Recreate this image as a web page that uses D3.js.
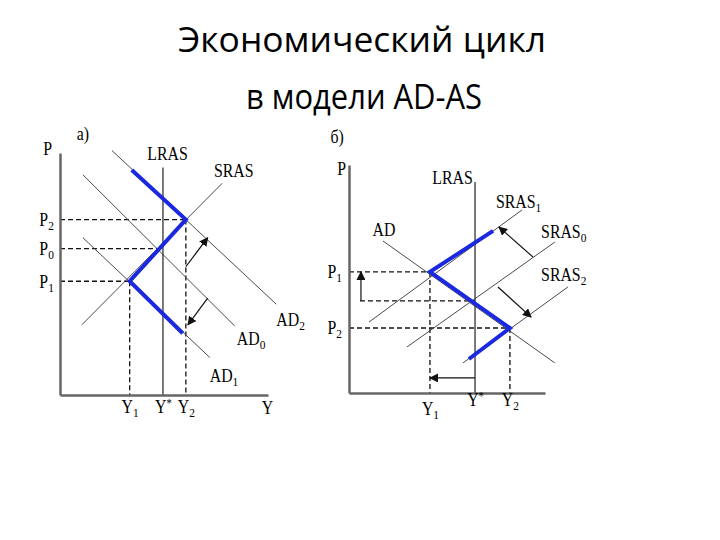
<!DOCTYPE html>
<html>
<head>
<meta charset="utf-8">
<script src="https://cdn.jsdelivr.net/npm/d3@7"></script>
<style>
  body { margin: 0; background: #fff; }
  .title { font-family: "Open Sans", "Noto Sans", sans-serif; font-size: 35px; fill: #000; }
  .lbl, .tick text { font-family: "Liberation Serif", "DejaVu Serif", serif; font-size: 18px; fill: #000; }
  .curve { fill: none; stroke: #4a4a4a; stroke-width: 1; }
  .lras { fill: none; stroke: #222; stroke-width: 1.2; }
  .dash { fill: none; stroke: #111; stroke-width: 1.3; stroke-dasharray: 5,3; }
  .path { fill: none; stroke: #1a28e0; stroke-width: 4; stroke-linejoin: miter; }
  .arr { fill: none; stroke: #111; stroke-width: 1.2; }
  .domain { stroke: #666; stroke-width: 2.5; }
</style>
</head>
<body>
<svg id="chart" width="720" height="540"></svg>
<script>
// ---- panel a) : demand shocks ----
var A_AD2 = [[25, 101], [104, 37.5]];
var A_AD0 = [[11, 91], [84, 28.5]];
var A_AD1 = [[11, 65], [72, 15.5]];
var A_SRAS = [[10.5, 29], [78, 87.5]];
var A_LRAS = [[49.5, 0], [49.5, 94]];
var A_path = [[34.5, 93], [60.5, 72.5], [33.5, 47], [59, 25.5]];
var A_yearTicks = [33.5, 49.5, 60.5];
var A_yearLabels = [["Y", "1"], ["Y", "*"], ["Y", "2"]];
var A_priceTicks = [72.5, 60.5, 47];
var A_priceLabels = [["P", "2"], ["P", "0"], ["P", "1"]];
var A_dashes = [
    [[0, 72.5], [60.5, 72.5]],
    [[0, 60.5], [49.5, 60.5]],
    [[0, 47], [33.5, 47]],
    [[33.5, 47], [33.5, 0]],
    [[60.5, 72.5], [60.5, 0]]
];
var A_arrows = [
    [[60.5, 53], [71, 65]],
    [[71, 40], [61.5, 29]]
];

// ---- panel б) : supply shocks ----
var B_AD = [[17.3, 66.7], [105, 13.2]];
var B_SRAS1 = [[10.2, 31.1], [88.3, 80.3]];
var B_SRAS0 = [[29.6, 20.2], [105, 66.2]];
var B_SRAS2 = [[58.2, 13.2], [111.7, 46.5]];
var B_LRAS = [[64.3, 0], [64.3, 92.5]];
var B_path = [[73.5, 71.1], [41.3, 53.1], [82.1, 28.5], [61.2, 14.9]];
var B_yearTicks = [41.3, 64.3, 82.1];
var B_yearLabels = [["Y", "1"], ["Y", "*"], ["Y", "2"]];
var B_priceTicks = [53.1, 28.5];
var B_priceLabels = [["P", "1"], ["P", "2"]];
var B_dashes = [
    [[0, 53.1], [41.3, 53.1]],
    [[5.6, 40.4], [64.3, 40.4]],
    [[0, 28.5], [82.1, 28.5]],
    [[41.3, 53.1], [41.3, 0]],
    [[82.1, 28.5], [82.1, 0]]
];
var B_arrows = [
    [[6.1, 40.4], [6.1, 53.1]],
    [[64.3, 6.6], [41.3, 6.6]],
    [[93.9, 59.6], [76.5, 72.8]],
    [[76, 46.5], [92.9, 33.3]]
];

var svg = d3.select("#chart");
var squeeze = 0.88;   // the scanned labels look a bit narrow

svg.append("defs").append("marker")
    .attr("id", "head")
    .attr("viewBox", "0 0 10 10")
    .attr("refX", 9).attr("refY", 5)
    .attr("markerWidth", 9).attr("markerHeight", 9)
    .attr("markerUnits", "userSpaceOnUse")
    .attr("orient", "auto")
    .append("path")
    .attr("d", "M0,0L10,5L0,10z")
    .attr("fill", "#111");

// title
svg.append("text").attr("class", "title")
    .attr("x", 362).attr("y", 52)
    .attr("text-anchor", "middle")
    .attr("textLength", 368).attr("lengthAdjust", "spacingAndGlyphs")
    .text("Экономический цикл");
svg.append("text").attr("class", "title")
    .attr("x", 364).attr("y", 109)
    .attr("text-anchor", "middle")
    .attr("textLength", 236).attr("lengthAdjust", "spacingAndGlyphs")
    .text("в модели AD-AS");

// write "X" with a small index after it
function subText(sel, pair) {
    sel.text(null);
    sel.append("tspan").text(pair[0]);
    if (pair[1] == "*")
	sel.append("tspan").attr("font-size", "12px").attr("dy", "-6").text(pair[1]);
    else if (pair[1])
	sel.append("tspan").attr("font-size", "13px").attr("dy", "4").text(pair[1]);
}

function label(g, x, y, px, py, pair) {
    var t = g.append("text").attr("class", "lbl")
	.attr("transform", "translate(" + x(px) + "," + y(py) + ") scale(" + squeeze + ",1)");
    subText(t, typeof pair == "string" ? [pair, ""] : pair);
    return t;
}

function drawPanel(p) {
    var g = svg.append("g");
    var x = d3.scaleLinear().domain([0, 100]).range(p.xr);
    var y = d3.scaleLinear().domain([0, 100]).range(p.yr);
    var line = d3.line().x(d => x(d[0])).y(d => y(d[1]));

    g.selectAll(".dash")
	.data(p.dashes)
	.enter().append("path")
	.attr("class", "dash")
	.attr("d", line);

    g.selectAll(".curve")
	.data(p.curves)
	.enter().append("path")
	.attr("class", "curve")
	.attr("d", line);

    g.append("path").attr("class", "lras").attr("d", line(p.lras));

    g.append("path").attr("class", "path").attr("d", line(p.path));

    g.selectAll(".arr")
	.data(p.arrows)
	.enter().append("path")
	.attr("class", "arr")
	.attr("marker-end", "url(#head)")
	.attr("d", line);

    var xAxis = g.append("g")
	.attr("transform", "translate(0," + p.yr[0] + ")")
	.call(d3.axisBottom(x).tickValues(p.xt).tickSize(0).tickSizeOuter(0)
	      .tickPadding(p.xpad).tickFormat((d, i) => i));
    xAxis.selectAll(".tick text").each(function(d, i) {
	var t = d3.select(this);
	subText(t, p.xl[i]);
	if (p.xshift) t.attr("y", p.xpad + p.xshift[i]);
	t.attr("transform", "scale(" + squeeze + ",1)");
    });

    var yAxis = g.append("g")
	.attr("transform", "translate(" + p.xr[0] + ",0)")
	.call(d3.axisLeft(y).tickValues(p.yt).tickSize(0).tickSizeOuter(0)
	      .tickPadding(p.ypad).tickFormat((d, i) => i));
    yAxis.selectAll(".tick text").each(function(d, i) {
	var t = d3.select(this);
	subText(t, p.yl[i]);
	t.attr("transform", "scale(" + squeeze + ",1)");
    });
    g.selectAll(".domain").attr("stroke", "#666");

    p.labels.forEach(function(l) {
	label(g, x, y, l[0], l[1], l[2]);
    });
}

drawPanel({
    xr: [60, 268], yr: [395, 153],
    curves: [A_AD2, A_AD0, A_AD1, A_SRAS],
    lras: A_LRAS, path: A_path, dashes: A_dashes, arrows: A_arrows,
    xt: A_yearTicks, xl: A_yearLabels, xpad: 5,
    yt: A_priceTicks, yl: A_priceLabels, ypad: 7,
    labels: [
	[-8, 99, "P"], [8, 105.4, "а)"], [42, 97, "LRAS"], [74, 90, "SRAS"],
	[104, 28.5, ["AD", "2"]], [85, 20.5, ["AD", "0"]], [72, 5.5, ["AD", "1"]],
	[97, -8, "Y"]
    ]
});

drawPanel({
    xr: [349, 545], yr: [393, 165],
    curves: [B_AD, B_SRAS1, B_SRAS0, B_SRAS2],
    lras: B_LRAS, path: B_path, dashes: B_dashes, arrows: B_arrows,
    xt: B_yearTicks, xl: B_yearLabels, xpad: 0, xshift: [9, 0, 0],
    yt: B_priceTicks, yl: B_priceLabels, ypad: 8,
    labels: [
	[-6, 95.6, "P"], [-9.5, 109.5, "б)"], [42.5, 91.5, "LRAS"],
	[75, 81, ["SRAS", "1"]], [12, 69, "AD"],
	[98, 68, ["SRAS", "0"]], [98, 49, ["SRAS", "2"]]
    ]
});
</script>
</body>
</html>
